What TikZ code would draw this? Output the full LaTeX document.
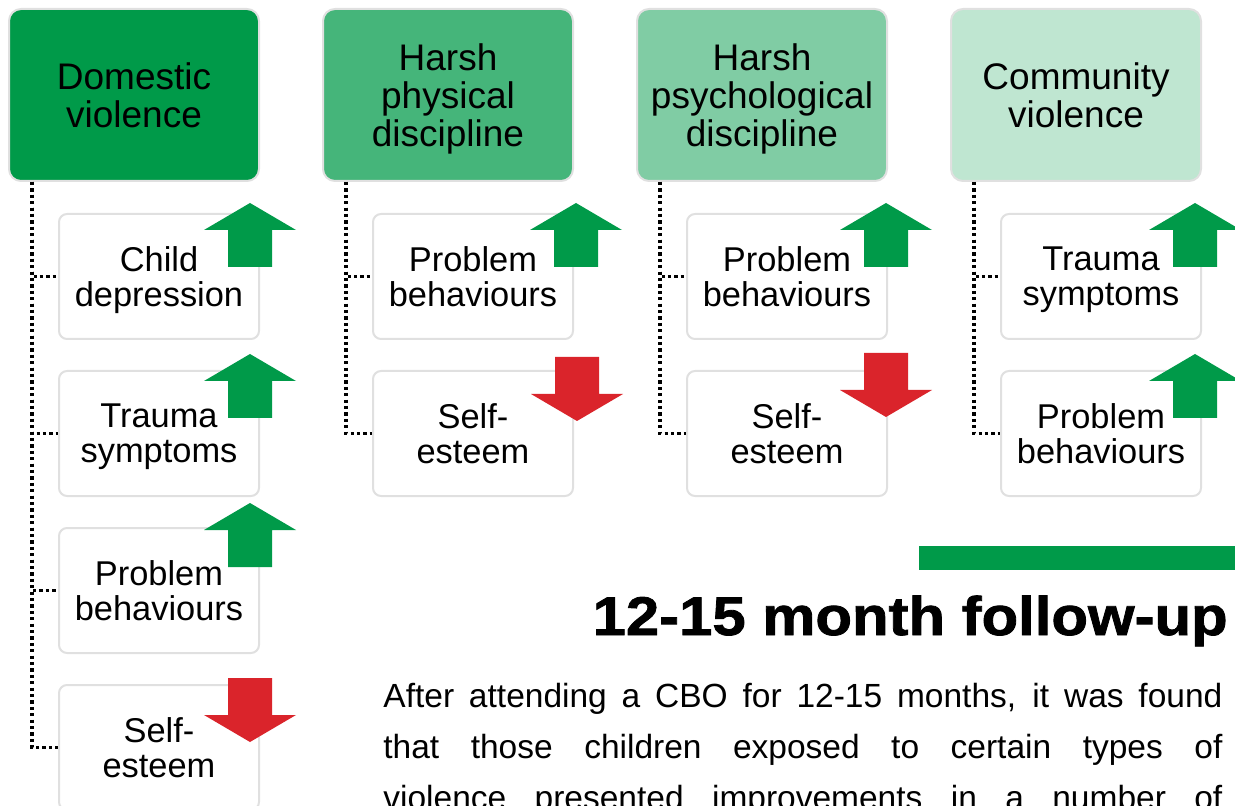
\documentclass[tikz,border=0pt]{standalone}
\usepackage{fontspec}
\setmainfont{Liberation Sans}
\newfontfamily\titlefont[FakeStretch=1.1,BoldFeatures={FakeBold=1.5}]{Liberation Sans}
\definecolor{cgreen}{RGB}{0,154,73}
\definecolor{cred}{RGB}{218,36,43}
\definecolor{boxline}{RGB}{224,224,224}
\tikzset{
  cat/.style={draw=boxline,line width=1pt,rounded corners=6pt,minimum width=125pt,minimum height=86pt,align=center,text depth=0pt,font=\fontsize{18.5}{19}\selectfont},
  outcome/.style={draw=boxline,line width=1pt,fill=white,rounded corners=4pt,minimum width=100pt,minimum height=62.5pt,align=center,text depth=0pt,font=\fontsize{17.2}{17.5}\selectfont},
  dotlink/.style={line width=1.6pt,dash pattern=on 1.6pt off 1.6pt},
  upgreen/.style={fill=cgreen},
  downred/.style={fill=cred}
}
\begin{document}
\begin{tikzpicture}[x=0.5pt,y=-0.5pt]
  \useasboundingbox (0,0) rectangle (1235,806);
  \clip (0,0) rectangle (1235,806);
  % categories of violence
  \node[cat,fill=cgreen] (dv) at (134,95) {Domestic\\violence};
  \node[cat,fill=cgreen!73!white] (hpd) at (448,95) {Harsh\\physical\\discipline};
  \node[cat,fill=cgreen!50!white] (hpsy) at (762,95) {Harsh\\psychological\\discipline};
  \node[cat,fill=cgreen!25!white] (cv) at (1076,95) {Community\\violence};
  % outcomes
  \node[outcome] (dv-dep) at (159,276.5) {Child\\depression};
  \node[outcome] (dv-trauma) at (159,433.5) {Trauma\\symptoms};
  \node[outcome] (dv-prob) at (159,590.5) {Problem\\behaviours};
  \node[outcome] (dv-self) at (159,747.5) {Self-\\esteem};
  \node[outcome] (hpd-prob) at (473,276.5) {Problem\\behaviours};
  \node[outcome] (hpd-self) at (473,433.5) {Self-\\esteem};
  \node[outcome] (hpsy-prob) at (787,276.5) {Problem\\behaviours};
  \node[outcome] (hpsy-self) at (787,433.5) {Self-\\esteem};
  \node[outcome] (cv-trauma) at (1101,276.5) {Trauma\\symptoms};
  \node[outcome] (cv-prob) at (1101,433.5) {Problem\\behaviours};
  % connectors
  \draw[dotlink] ([xshift=12pt]dv.south west) |- (dv-self.west);
  \draw[dotlink] ([xshift=12pt]dv.south west) |- (dv-prob.west);
  \draw[dotlink] ([xshift=12pt]dv.south west) |- (dv-trauma.west);
  \draw[dotlink] ([xshift=12pt]dv.south west) |- (dv-dep.west);
  \draw[dotlink] ([xshift=12pt]hpd.south west) |- (hpd-self.west);
  \draw[dotlink] ([xshift=12pt]hpd.south west) |- (hpd-prob.west);
  \draw[dotlink] ([xshift=12pt]hpsy.south west) |- (hpsy-self.west);
  \draw[dotlink] ([xshift=12pt]hpsy.south west) |- (hpsy-prob.west);
  \draw[dotlink] ([xshift=12pt]cv.south west) |- (cv-prob.west);
  \draw[dotlink] ([xshift=12pt]cv.south west) |- (cv-trauma.west);
  % arrows
  \foreach \ax/\ay in {250/203,250/354,250/503,576/203,886/203,1195/203,1195/354}
    \fill[upgreen] (\ax,\ay) -- ++(46,27) -- ++(-24,0) -- ++(0,37) -- ++(-44,0) -- ++(0,-37) -- ++(-24,0) -- cycle;
  \foreach \ax/\ay in {250/678,577/357,886/353}
    \fill[downred] (\ax-22,\ay) -- ++(44,0) -- ++(0,37) -- ++(24,0) -- ++(-46,27) -- ++(-46,-27) -- ++(24,0) -- cycle;
  % follow-up text
  \fill[cgreen] (919,546) rectangle (1235,570);
  \node[anchor=base east,inner sep=0pt,font=\titlefont\bfseries\fontsize{27.2}{30}\selectfont] (title) at (1228,635) {12-15 month follow-up};
  \node[anchor=north west,inner sep=0pt,text width=419.5pt,align=justify,font=\fontsize{16.75}{25.5}\selectfont] (body) at (383,683) {After attending a CBO for 12-15 months, it was found\linebreak that those children exposed to certain types of\linebreak violence presented improvements in a number of\linebreak};
\end{tikzpicture}
\end{document}
